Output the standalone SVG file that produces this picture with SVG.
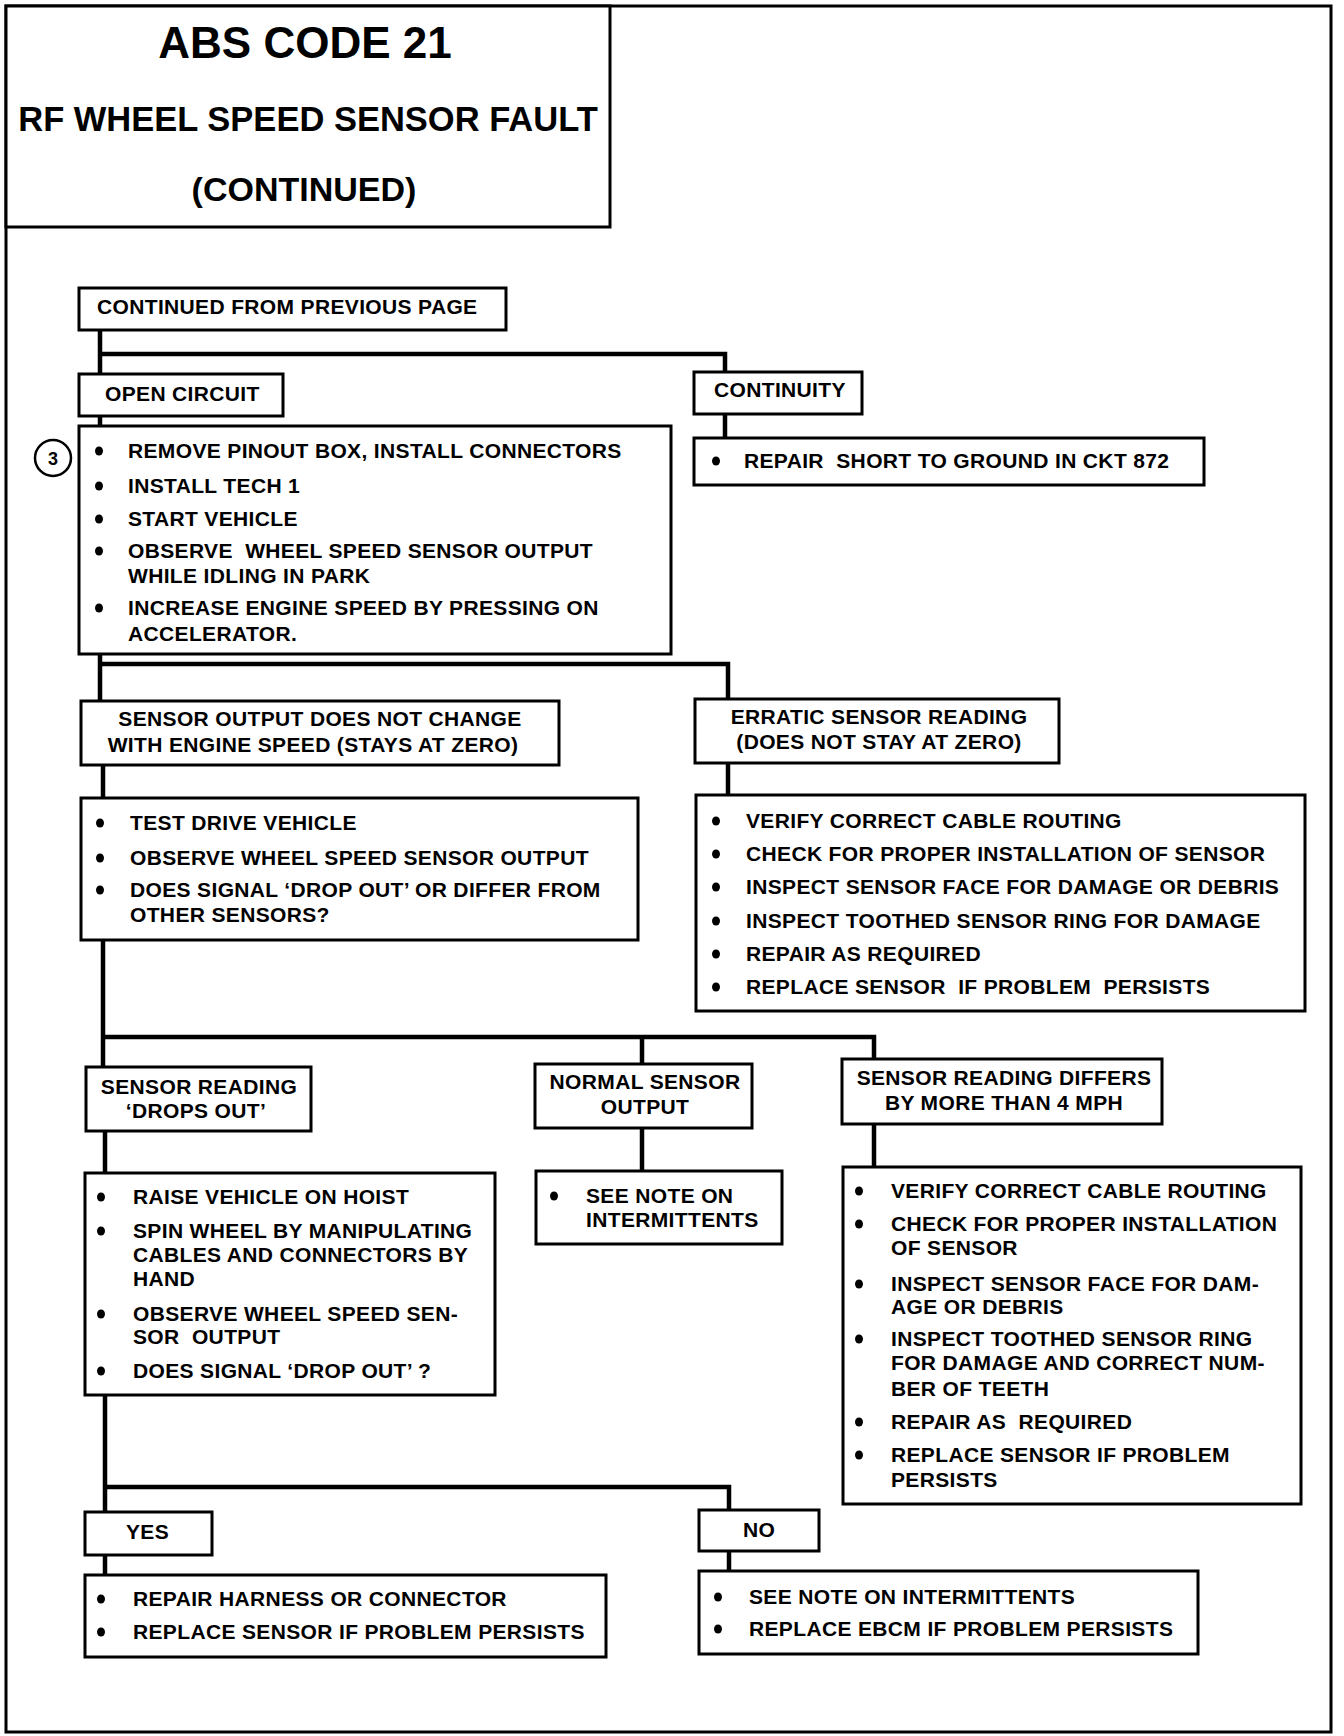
<svg xmlns="http://www.w3.org/2000/svg" width="1344" height="1736" viewBox="0 0 1344 1736">
<style>
.bx{fill:#fff;stroke:#000;stroke-width:3}
.cn{fill:none;stroke:#000;stroke-width:4.5;stroke-linejoin:miter;stroke-linecap:square}
text{font-family:"Liberation Sans",Arial,sans-serif;font-weight:bold;fill:#000;white-space:pre}
.t{font-size:21px;letter-spacing:0.35px}
.c{text-anchor:middle}
.h{text-anchor:middle;letter-spacing:0}
.d{fill:#000}
</style>
<defs><ellipse id="b" rx="4" ry="4.6" class="d"/></defs>
<rect x="6" y="6" width="1325" height="1726" fill="#fff" stroke="#000" stroke-width="3"/>
<g id="connectors">
<path class="cn" d="M100 330V374M100 354H725V372"/>
<path class="cn" d="M725 414V438"/>
<path class="cn" d="M100 416V426"/>
<path class="cn" d="M100 654V701M100 664H728V699"/>
<path class="cn" d="M103 765V798"/>
<path class="cn" d="M728 763V795"/>
<path class="cn" d="M103 940V1067M103 1037H874V1059M642 1037V1064"/>
<path class="cn" d="M105 1131V1173"/>
<path class="cn" d="M642 1128V1171"/>
<path class="cn" d="M874 1124V1167"/>
<path class="cn" d="M105 1395V1512M105 1487H729V1510"/>
<path class="cn" d="M105 1555V1575"/>
<path class="cn" d="M729 1551V1571"/>
</g>
<g id="title">
<rect class="bx" x="6" y="6" width="604" height="221"/>
<text class="h" x="305" y="58" font-size="44">ABS CODE 21</text>
<text class="h" x="308" y="131" font-size="34.5">RF WHEEL SPEED SENSOR FAULT</text>
<text class="h" x="304" y="201" font-size="34">(CONTINUED)</text>
</g>
<g id="continued">
<rect class="bx" x="79" y="288" width="427" height="42"/>
<text class="t" x="97" y="314">CONTINUED FROM PREVIOUS PAGE</text>
</g>
<g id="open-circuit">
<rect class="bx" x="79" y="374" width="204" height="42"/>
<text class="t" x="105" y="401">OPEN CIRCUIT</text>
</g>
<g id="continuity">
<rect class="bx" x="694" y="372" width="168" height="42"/>
<text class="t" x="714" y="397">CONTINUITY</text>
</g>
<g id="repair-short">
<rect class="bx" x="694" y="438" width="510" height="47"/>
<use href="#b" x="716" y="461"/>
<text class="t" x="744" y="468">REPAIR  SHORT TO GROUND IN CKT 872</text>
</g>
<g id="step3">
<circle cx="53" cy="458" r="18" fill="#fff" stroke="#000" stroke-width="2.5"/>
<text class="h" x="53" y="465" font-size="18">3</text>
<rect class="bx" x="79" y="426" width="592" height="228"/>
<use href="#b" x="99" y="451"/><text class="t" x="128" y="458">REMOVE PINOUT BOX, INSTALL CONNECTORS</text>
<use href="#b" x="99" y="486"/><text class="t" x="128" y="493">INSTALL TECH 1</text>
<use href="#b" x="99" y="519"/><text class="t" x="128" y="526">START VEHICLE</text>
<use href="#b" x="99" y="551"/><text class="t" x="128" y="558">OBSERVE  WHEEL SPEED SENSOR OUTPUT</text>
<text class="t" x="128" y="583">WHILE IDLING IN PARK</text>
<use href="#b" x="99" y="608"/><text class="t" x="128" y="615">INCREASE ENGINE SPEED BY PRESSING ON</text>
<text class="t" x="128" y="641">ACCELERATOR.</text>
</g>
<g id="no-change">
<rect class="bx" x="81" y="701" width="478" height="64"/>
<text class="t c" x="320" y="726">SENSOR OUTPUT DOES NOT CHANGE</text>
<text class="t c" x="313" y="752">WITH ENGINE SPEED (STAYS AT ZERO)</text>
</g>
<g id="erratic">
<rect class="bx" x="695" y="699" width="364" height="64"/>
<text class="t c" x="879" y="724">ERRATIC SENSOR READING</text>
<text class="t c" x="879" y="749">(DOES NOT STAY AT ZERO)</text>
</g>
<g id="test-drive">
<rect class="bx" x="81" y="798" width="557" height="142"/>
<use href="#b" x="100" y="823"/><text class="t" x="130" y="830">TEST DRIVE VEHICLE</text>
<use href="#b" x="100" y="858"/><text class="t" x="130" y="865">OBSERVE WHEEL SPEED SENSOR OUTPUT</text>
<use href="#b" x="100" y="890"/><text class="t" x="130" y="897">DOES SIGNAL ‘DROP OUT’ OR DIFFER FROM</text>
<text class="t" x="130" y="922">OTHER SENSORS?</text>
</g>
<g id="erratic-steps">
<rect class="bx" x="696" y="795" width="609" height="216"/>
<use href="#b" x="716" y="821"/><text class="t" x="746" y="828">VERIFY CORRECT CABLE ROUTING</text>
<use href="#b" x="716" y="854"/><text class="t" x="746" y="861">CHECK FOR PROPER INSTALLATION OF SENSOR</text>
<use href="#b" x="716" y="887"/><text class="t" x="746" y="894">INSPECT SENSOR FACE FOR DAMAGE OR DEBRIS</text>
<use href="#b" x="716" y="921"/><text class="t" x="746" y="928">INSPECT TOOTHED SENSOR RING FOR DAMAGE</text>
<use href="#b" x="716" y="954"/><text class="t" x="746" y="961">REPAIR AS REQUIRED</text>
<use href="#b" x="716" y="987"/><text class="t" x="746" y="994">REPLACE SENSOR  IF PROBLEM  PERSISTS</text>
</g>
<g id="drops-out">
<rect class="bx" x="86" y="1067" width="225" height="64"/>
<text class="t c" x="199" y="1094">SENSOR READING</text>
<text class="t c" x="196" y="1118">‘DROPS OUT’</text>
</g>
<g id="normal">
<rect class="bx" x="535" y="1064" width="217" height="64"/>
<text class="t c" x="645" y="1089">NORMAL SENSOR</text>
<text class="t c" x="645" y="1114">OUTPUT</text>
</g>
<g id="differs">
<rect class="bx" x="842" y="1059" width="320" height="65"/>
<text class="t c" x="1004" y="1085">SENSOR READING DIFFERS</text>
<text class="t c" x="1004" y="1110">BY MORE THAN 4 MPH</text>
</g>
<g id="hoist">
<rect class="bx" x="85" y="1173" width="410" height="222"/>
<use href="#b" x="101" y="1197"/><text class="t" x="133" y="1204">RAISE VEHICLE ON HOIST</text>
<use href="#b" x="101" y="1231"/><text class="t" x="133" y="1238">SPIN WHEEL BY MANIPULATING</text>
<text class="t" x="133" y="1262">CABLES AND CONNECTORS BY</text>
<text class="t" x="133" y="1286">HAND</text>
<use href="#b" x="101" y="1314"/><text class="t" x="133" y="1321">OBSERVE WHEEL SPEED SEN-</text>
<text class="t" x="133" y="1344">SOR  OUTPUT</text>
<use href="#b" x="101" y="1371"/><text class="t" x="133" y="1378">DOES SIGNAL ‘DROP OUT’ ?</text>
</g>
<g id="see-note">
<rect class="bx" x="536" y="1171" width="246" height="73"/>
<use href="#b" x="554" y="1196"/><text class="t" x="586" y="1203">SEE NOTE ON</text>
<text class="t" x="586" y="1227">INTERMITTENTS</text>
</g>
<g id="differs-steps">
<rect class="bx" x="843" y="1167" width="458" height="337"/>
<use href="#b" x="859" y="1191"/><text class="t" x="891" y="1198">VERIFY CORRECT CABLE ROUTING</text>
<use href="#b" x="859" y="1224"/><text class="t" x="891" y="1231">CHECK FOR PROPER INSTALLATION</text>
<text class="t" x="891" y="1255">OF SENSOR</text>
<use href="#b" x="859" y="1284"/><text class="t" x="891" y="1291">INSPECT SENSOR FACE FOR DAM-</text>
<text class="t" x="891" y="1314">AGE OR DEBRIS</text>
<use href="#b" x="859" y="1339"/><text class="t" x="891" y="1346">INSPECT TOOTHED SENSOR RING</text>
<text class="t" x="891" y="1370">FOR DAMAGE AND CORRECT NUM-</text>
<text class="t" x="891" y="1396">BER OF TEETH</text>
<use href="#b" x="859" y="1422"/><text class="t" x="891" y="1429">REPAIR AS  REQUIRED</text>
<use href="#b" x="859" y="1455"/><text class="t" x="891" y="1462">REPLACE SENSOR IF PROBLEM</text>
<text class="t" x="891" y="1487">PERSISTS</text>
</g>
<g id="yes">
<rect class="bx" x="85" y="1512" width="127" height="43"/>
<text class="t" x="126" y="1539">YES</text>
</g>
<g id="no">
<rect class="bx" x="699" y="1510" width="120" height="41"/>
<text class="t" x="743" y="1537">NO</text>
</g>
<g id="yes-steps">
<rect class="bx" x="85" y="1575" width="521" height="82"/>
<use href="#b" x="101" y="1599"/><text class="t" x="133" y="1606">REPAIR HARNESS OR CONNECTOR</text>
<use href="#b" x="101" y="1632"/><text class="t" x="133" y="1639">REPLACE SENSOR IF PROBLEM PERSISTS</text>
</g>
<g id="no-steps">
<rect class="bx" x="699" y="1571" width="499" height="83"/>
<use href="#b" x="718" y="1597"/><text class="t" x="749" y="1604">SEE NOTE ON INTERMITTENTS</text>
<use href="#b" x="718" y="1629"/><text class="t" x="749" y="1636">REPLACE EBCM IF PROBLEM PERSISTS</text>
</g>
</svg>
